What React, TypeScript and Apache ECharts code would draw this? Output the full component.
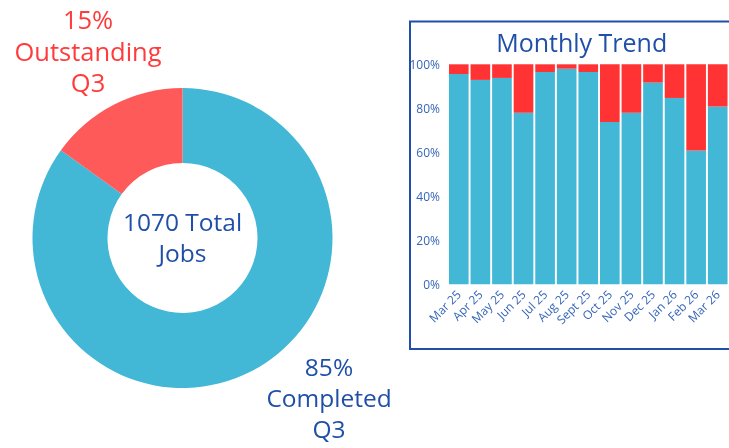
import React, { useEffect, useRef } from "react";
import * as echarts from "echarts";

const months = ["Mar 25", "Apr 25", "May 25", "Jun 25", "Jul 25", "Aug 25", "Sept 25", "Oct 25", "Nov 25", "Dec 25", "Jan 26", "Feb 26", "Mar 26"];
const completedPct = [95.6, 92.9, 93.8, 78.0, 96.5, 98.0, 96.5, 73.8, 78.0, 91.7, 84.7, 60.8, 80.8];
const outstandingPct = completedPct.map((v) => +(100 - v).toFixed(1));
const yTicks = [0, 20, 40, 60, 80, 100];

const pieNames = ["Completed", "Outstanding"];
const pieValues = [909, 161];
const totalJobs = 1070;
const quarter = "Q3";

const BLUE = "#42b7d6";
const RED_BAR = "#ff3333";
const RED_PIE = "#ff5a5a";
const RED_TEXT = "#ff3b3b";
const TEXT_BLUE = "#1f4fa8";
const AXIS_BLUE = "#3565b8";
const FONT = "Open Sans";

export default function App() {
  const ref = useRef<HTMLDivElement>(null);
  useEffect(() => {
    if (!ref.current) return;
    const chart = echarts.init(ref.current, null, { renderer: "svg" });
    const sum = pieValues.reduce((a, b) => a + b, 0);
    const pct = pieValues.map((v) => Math.round((v / sum) * 100));
    chart.setOption({
      animation: false,
      textStyle: { fontFamily: FONT },
      grid: { left: 448, top: 64.3, width: 280.5, height: 220 },
      xAxis: {
        type: "category",
        data: months,
        axisLine: { show: false },
        axisTick: { show: false },
        axisLabel: { rotate: 45, fontSize: 12, color: AXIS_BLUE, fontFamily: FONT, margin: 8, interval: 0 },
      },
      yAxis: {
        type: "value",
        min: 0,
        max: 100,
        interval: 20,
        splitLine: { show: false },
        axisLabel: { fontSize: 12, color: AXIS_BLUE, fontFamily: FONT, margin: 8, formatter: (v: number) => (yTicks.includes(v) ? v + "%" : "") },
      },
      graphic: [
        { type: "rect", shape: { x: 410, y: 21.5, width: 330, height: 327.5 }, style: { fill: "none", stroke: TEXT_BLUE, lineWidth: 2 }, z: 0 },
        { type: "text", x: 581.7, y: 42, style: { text: "Monthly Trend", fontSize: 25, fill: TEXT_BLUE, fontFamily: FONT, align: "center", verticalAlign: "middle" } },
        { type: "text", x: 88, y: 50.5, style: { text: `${pct[1]}%\n${pieNames[1]}\n${quarter}`, fontSize: 25.5, lineHeight: 31.5, fill: RED_TEXT, fontFamily: FONT, align: "center", verticalAlign: "middle" } },
        { type: "text", x: 329, y: 397, style: { text: `${pct[0]}%\n${pieNames[0]}\n${quarter}`, fontSize: 24.5, lineHeight: 31, fill: TEXT_BLUE, fontFamily: FONT, align: "center", verticalAlign: "middle" } },
        { type: "text", x: 182.5, y: 237, style: { text: `${totalJobs} Total\nJobs`, fontSize: 24.5, lineHeight: 31, fill: TEXT_BLUE, fontFamily: FONT, align: "center", verticalAlign: "middle" } },
      ],
      series: [
        {
          type: "pie",
          center: [182.5, 238],
          radius: [75, 150],
          startAngle: 90,
          clockwise: true,
          label: { show: false },
          labelLine: { show: false },
          silent: true,
          data: pieNames.map((n, i) => ({ name: n, value: pieValues[i], itemStyle: { color: i === 0 ? BLUE : RED_PIE } })),
        },
        {
          type: "bar",
          stack: "m",
          data: completedPct,
          barCategoryGap: "9%",
          itemStyle: { color: BLUE },
        },
        {
          type: "bar",
          stack: "m",
          data: outstandingPct,
          itemStyle: { color: RED_BAR },
        },
      ],
    });
    return () => chart.dispose();
  }, []);
  return <div ref={ref} style={{ position: "fixed", left: 0, top: 0, width: 729, height: 448 }} />;
}
